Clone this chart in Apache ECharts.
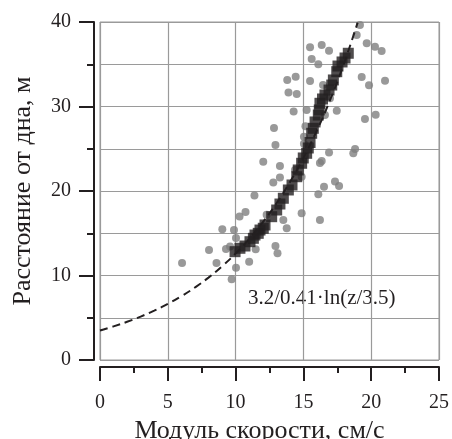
<!DOCTYPE html>
<html>
<head>
<meta charset="utf-8">
<script src="https://cdn.jsdelivr.net/npm/echarts@6/dist/echarts.min.js"></script>
<style>
  html, body { margin: 0; padding: 0; background: #fff; }
  #chart { width: 452px; height: 439px; }
</style>
</head>
<body>
<div id="chart"></div>
<script>
// gray circles: [speed, height]
const circles = [
    [19.17, 39.64], [18.93, 38.46], [19.67, 37.48], [20.28, 37.08], [20.77, 36.57],
    [15.49, 37.01], [16.35, 37.28], [16.89, 36.60], [15.61, 35.62], [16.10, 34.99],
    [13.81, 33.14], [14.43, 33.53], [15.49, 33.02], [16.45, 32.54], [19.30, 33.49],
    [19.84, 32.51], [21.02, 33.05], [13.90, 31.66], [14.51, 31.48], [16.96, 30.97],
    [14.28, 29.41], [15.24, 29.59], [16.59, 28.99], [17.46, 29.50], [12.83, 27.46],
    [15.15, 27.66], [15.04, 26.43], [19.54, 28.52], [20.33, 29.03], [12.94, 25.44],
    [15.04, 25.60], [18.81, 24.97], [18.68, 24.46], [16.89, 24.56], [12.04, 23.47],
    [13.27, 22.96], [16.35, 23.55], [16.22, 23.31], [13.27, 21.60], [12.78, 21.01],
    [17.33, 21.12], [17.63, 20.59], [16.52, 20.51], [16.10, 19.61], [14.38, 22.49],
    [14.87, 21.69], [11.39, 19.47], [10.73, 17.51], [10.29, 16.98], [12.29, 17.20],
    [13.52, 16.57], [13.77, 15.59], [14.87, 17.36], [16.22, 16.57], [9.88, 15.38],
    [9.02, 15.47], [10.03, 14.44], [8.04, 13.02], [9.29, 13.14], [9.59, 13.43],
    [11.48, 13.10], [12.94, 13.49], [13.09, 12.63], [6.05, 11.48], [8.59, 11.48],
    [10.03, 10.92], [11.00, 11.63], [9.71, 9.55]
];

// black squares: [speed, height]
const squares = [
    [9.96, 12.82], [10.32, 13.22], [10.69, 13.49], [11.06, 14.00], [11.31, 14.40],
    [11.43, 14.79], [11.67, 14.99], [11.80, 15.38], [12.04, 15.59], [12.17, 15.98],
    [12.66, 16.96], [13.03, 17.75], [13.27, 18.46], [13.52, 19.14], [13.89, 20.12],
    [14.16, 20.71], [14.51, 21.69], [14.62, 22.49], [14.87, 23.28], [14.99, 23.91],
    [15.24, 24.46], [15.36, 25.09], [15.49, 25.74], [15.61, 26.83], [15.73, 27.42],
    [15.86, 28.17], [16.10, 28.99], [16.17, 29.59], [16.22, 30.38], [16.41, 30.89],
    [16.59, 31.36], [16.89, 31.95], [17.09, 32.54], [17.21, 33.14], [17.46, 34.12],
    [17.55, 34.79], [17.85, 35.27], [18.07, 35.74], [18.31, 36.30]
];

// log profile: [speed, height]
const profile = [
    [0, 3.5], [1, 3.98], [2, 4.52], [3, 5.14], [4, 5.84], [5, 6.64], [6, 7.55],
    [7, 8.58], [8, 9.75], [9, 11.09], [10, 12.6], [11, 14.33], [12, 16.29],
    [13, 18.51], [14, 21.04], [15, 23.92], [16, 27.19], [17, 30.9], [18, 35.13],
    [19, 39.93]
];

// [min, max, major step, minor step]
const xTicks = [0, 25, 5, 2.5];
const yTicks = [0, 40, 10, 5];
const formula = '3.2/0.41·ln(z/3.5)';

const font = "'Liberation Serif', 'DejaVu Serif', serif";
const ink = '#231f20';
const gridGray = '#9a9a9a';

const tickLine = {color: ink, width: 2};

const chart = echarts.init(document.getElementById('chart'));
chart.setOption({
    animation: false,
    grid: {
        left: 100,
        top: 22,
        width: 339,
        height: 338,
        containLabel: false,
        outerBoundsMode: 'none',
        show: true,
        borderColor: gridGray,
        borderWidth: 1
    },
    xAxis: [
        {
            type: 'value',
            position: 'bottom',
            min: xTicks[0],
            max: xTicks[1],
            interval: xTicks[2],
            offset: 7,
            name: 'Модуль скорости, см/с',
            nameLocation: 'middle',
            nameGap: 38,
            nameTextStyle: {fontFamily: font, fontSize: 26, color: ink, padding: [0, 20, 0, 0]},
            axisLine: {show: true, onZero: false, lineStyle: tickLine},
            axisTick: {show: true, length: 14, lineStyle: tickLine},
            axisLabel: {fontFamily: font, fontSize: 20, color: ink, margin: 26},
            splitLine: {show: true, lineStyle: {color: gridGray, width: 1.2}}
        },
        {
            // minor ticks
            type: 'value',
            position: 'bottom',
            min: xTicks[0],
            max: xTicks[1],
            interval: xTicks[3],
            offset: 7,
            axisLine: {show: false, onZero: false},
            axisTick: {show: true, length: 6, lineStyle: tickLine},
            axisLabel: {show: false},
            splitLine: {show: false}
        }
    ],
    yAxis: [
        {
            type: 'value',
            position: 'left',
            min: yTicks[0],
            max: yTicks[1],
            interval: yTicks[3],
            offset: 6,
            name: 'Расстояние от дна, м',
            nameLocation: 'middle',
            nameGap: 58,
            nameTextStyle: {fontFamily: font, fontSize: 26, color: ink},
            axisLine: {show: true, onZero: false, lineStyle: tickLine},
            axisTick: {show: true, length: 7, lineStyle: tickLine},
            axisLabel: {show: false},
            splitLine: {show: true, lineStyle: {color: gridGray, width: 1.2}}
        },
        {
            // major ticks + labels
            type: 'value',
            position: 'left',
            min: yTicks[0],
            max: yTicks[1],
            interval: yTicks[2],
            offset: 6,
            axisLine: {show: false, onZero: false},
            axisTick: {show: true, length: 15, lineStyle: tickLine},
            axisLabel: {fontFamily: font, fontSize: 20, color: ink, margin: 23},
            splitLine: {show: false}
        }
    ],
    graphic: [{
        type: 'text',
        left: 248,
        top: 288,
        style: {text: formula, fontFamily: font, fontSize: 21, fill: ink}
    }],
    series: [
        {
            type: 'scatter',
            data: circles,
            symbol: 'circle',
            symbolSize: 8,
            itemStyle: {color: '#808080'},
            z: 2
        },
        {
            type: 'line',
            data: profile,
            smooth: true,
            showSymbol: false,
            lineStyle: {color: ink, width: 2, type: [8, 5]},
            z: 3
        },
        {
            type: 'scatter',
            data: squares,
            symbol: 'rect',
            symbolSize: 11,
            itemStyle: {color: ink},
            z: 4
        }
    ]
});
</script>
</body>
</html>
